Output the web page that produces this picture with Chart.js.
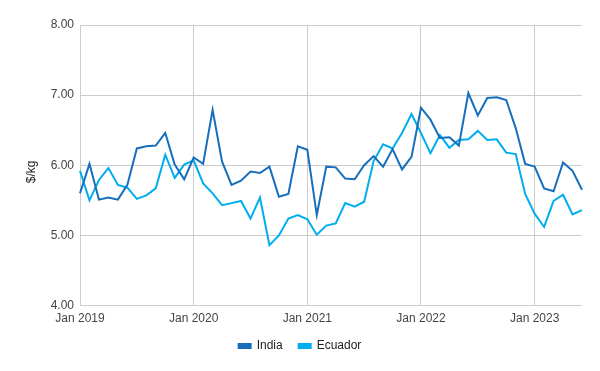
<!DOCTYPE html>
<html>
<head>
<meta charset="utf-8">
<script src="https://cdn.jsdelivr.net/npm/chart.js@4/dist/chart.umd.min.js"></script>
<style>
  body { margin: 0; background: #fff; }
  #wrap { width: 600px; height: 371px; }
</style>
</head>
<body>
<div id="wrap"><canvas id="lineChart"></canvas></div>
<script>
// monthly, Jan 2019 .. Jun 2023
const monthNames = ['Jan', 'Feb', 'Mar', 'Apr', 'May', 'Jun', 'Jul', 'Aug', 'Sep', 'Oct', 'Nov', 'Dec'];
const years = [2019, 2020, 2021, 2022, 2023];

const india = [
    5.60, 6.02, 5.51, 5.54, 5.51, 5.72, 6.24, 6.27, 6.28, 6.46, 6.01, 5.80,
    6.11, 6.02, 6.79, 6.05, 5.72, 5.78, 5.91, 5.89, 5.98, 5.55, 5.59, 6.27,
    6.22, 5.29, 5.98, 5.97, 5.81, 5.80, 6.00, 6.13, 5.98, 6.23, 5.94, 6.12,
    6.82, 6.65, 6.39, 6.40, 6.28, 7.03, 6.71, 6.96, 6.97, 6.93, 6.53, 6.02,
    5.98, 5.67, 5.63, 6.04, 5.92, 5.65
];
const ecuador = [
    5.92, 5.50, 5.79, 5.96, 5.72, 5.68, 5.52, 5.57, 5.67, 6.15, 5.82, 6.01,
    6.07, 5.74, 5.60, 5.43, 5.46, 5.49, 5.24, 5.54, 4.86, 5.00, 5.24, 5.29,
    5.23, 5.01, 5.14, 5.17, 5.46, 5.41, 5.48, 6.06, 6.30, 6.24, 6.46, 6.73,
    6.46, 6.17, 6.43, 6.25, 6.36, 6.37, 6.49, 6.36, 6.37, 6.18, 6.16, 5.59,
    5.31, 5.12, 5.49, 5.58, 5.30, 5.36
];

const labels = [];
years.forEach(y => monthNames.forEach(m => labels.push(m + ' ' + y)));
labels.length = india.length;

const fontFamily = '"Liberation Sans", Arial, sans-serif';
const textColor = '#444';
const gridColor = '#cccccc';

const config = {
    type: 'line',
    data: {
        labels: labels,
        datasets: [
            {
                label: 'India',
                data: india,
                borderColor: '#166ebd',
                backgroundColor: '#166ebd',
                borderWidth: 2,
                pointRadius: 0,
                tension: 0
            },
            {
                label: 'Ecuador',
                data: ecuador,
                borderColor: '#00aeef',
                backgroundColor: '#00aeef',
                borderWidth: 2,
                pointRadius: 0,
                tension: 0
            }
        ]
    },
    options: {
        responsive: true,
        maintainAspectRatio: false,
        animation: false,
        layout: { padding: { top: 25, right: 18, left: 18, bottom: 9 } },
        plugins: {
            tooltip: { enabled: false },
            legend: {
                position: 'bottom',
                labels: {
                    color: '#222',
                    font: { family: fontFamily, size: 12 },
                    boxWidth: 12,
                    boxHeight: 4,
                    padding: 16
                }
            }
        },
        scales: {
            x: {
                offset: false,
                grid: {
                    drawTicks: false,
                    color: ctx => (ctx.index % 12 === 0 ? gridColor : 'rgba(0,0,0,0)')
                },
                border: { display: false },
                ticks: {
                    autoSkip: false,
                    maxRotation: 0,
                    padding: 6,
                    color: textColor,
                    font: { family: fontFamily, size: 12 },
                    callback: function (value, index) {
                        return index % 12 === 0 ? labels[index] : '';
                    }
                },
                afterFit: scale => { scale.height = 18.5; }
            },
            y: {
                min: 4,
                max: 8,
                grid: { drawTicks: false, color: gridColor },
                border: { display: true, color: gridColor },
                ticks: {
                    stepSize: 1,
                    padding: 6,
                    color: textColor,
                    font: { family: fontFamily, size: 12 },
                    callback: v => v.toFixed(2)
                },
                title: {
                    display: true,
                    // trailing spaces nudge the rotated title a bit lower
                    text: '$/kg    ',
                    color: '#222',
                    padding: { top: 6 },
                    font: { family: fontFamily, size: 12 }
                },
                afterFit: scale => { scale.width = 62; }
            }
        }
    }
};

const ctx = document.getElementById('lineChart').getContext('2d');
const chart = new Chart(ctx, config);
</script>
</body>
</html>
